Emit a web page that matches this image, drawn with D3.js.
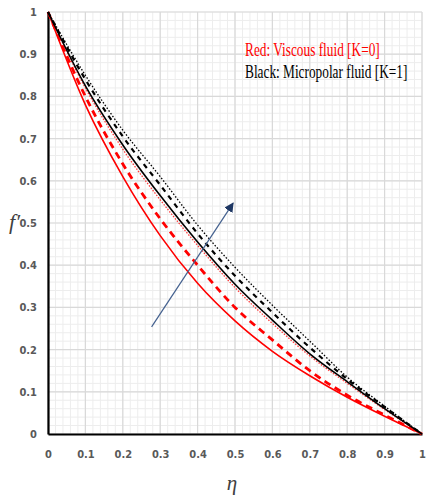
<!DOCTYPE html>
<html lang="en">
<head>
<meta charset="UTF-8">
<title>f' profile</title>
<script src="https://d3js.org/d3.v7.min.js"></script>
<style>
  body { margin: 0; background: #fff; }
  .tick-label { font-family: "Liberation Sans Narrow", "DejaVu Sans Condensed", "Liberation Sans", sans-serif; font-weight: bold; font-size: 11px; fill: #595959; }
</style>
</head>
<body>
<div id="chart"></div>
<script>
// values
const eta = [0, 0.1, 0.2, 0.3, 0.4, 0.5, 0.6, 0.7, 0.8, 0.9, 1];
const redSolid  = [1, 0.78, 0.61, 0.47, 0.357, 0.268, 0.196, 0.138, 0.087, 0.042, 0];
const redDashed = [1, 0.8, 0.64, 0.51, 0.4, 0.3, 0.223, 0.15, 0.092, 0.045, 0];
const redDotted = [1, 0.82, 0.675, 0.555, 0.447, 0.347, 0.262, 0.185, 0.12, 0.058, 0];
const blackSolid  = [1, 0.825, 0.685, 0.565, 0.455, 0.355, 0.27, 0.19, 0.124, 0.06, 0];
const blackDashed = [1, 0.84, 0.705, 0.59, 0.475, 0.375, 0.288, 0.205, 0.13, 0.064, 0];
const blackDotted = [1, 0.85, 0.72, 0.61, 0.495, 0.395, 0.305, 0.22, 0.135, 0.066, 0];
const xTicks = [0, 0.1, 0.2, 0.3, 0.4, 0.5, 0.6, 0.7, 0.8, 0.9, 1];
const yTicks = [0, 0.1, 0.2, 0.3, 0.4, 0.5, 0.6, 0.7, 0.8, 0.9, 1];
const arrowFrom = [0.277, 0.254];
const arrowTo = [0.495, 0.547];

const W = 427, H = 502;
const margin = { top: 12, right: 5, bottom: 68, left: 48 };

const svg = d3.select("#chart").append("svg")
  .attr("width", W).attr("height", H);

const x = d3.scaleLinear().domain([0, 1]).range([margin.left, W - margin.right]);
const y = d3.scaleLinear().domain([0, 1]).range([H - margin.bottom, margin.top]);

// grid: minor every 0.02, major every 0.1
const minor = d3.range(0, 1.0001, 0.02);
const g = svg.append("g");
g.selectAll("line.mx").data(minor).enter().append("line")
  .attr("x1", d => x(d)).attr("x2", d => x(d)).attr("y1", y(0)).attr("y2", y(1))
  .attr("stroke", "#ededed").attr("stroke-width", 1);
g.selectAll("line.my").data(minor).enter().append("line")
  .attr("y1", d => y(d)).attr("y2", d => y(d)).attr("x1", x(0)).attr("x2", x(1))
  .attr("stroke", "#ededed").attr("stroke-width", 1);
g.selectAll("line.gx").data(xTicks).enter().append("line")
  .attr("x1", d => x(d)).attr("x2", d => x(d)).attr("y1", y(0)).attr("y2", y(1))
  .attr("stroke", "#d9d9d9").attr("stroke-width", 1.2);
g.selectAll("line.gy").data(yTicks).enter().append("line")
  .attr("y1", d => y(d)).attr("y2", d => y(d)).attr("x1", x(0)).attr("x2", x(1))
  .attr("stroke", "#d9d9d9").attr("stroke-width", 1.2);

// axes
svg.append("g").attr("transform", `translate(0,${y(0)})`)
  .call(d3.axisBottom(x).tickValues(xTicks).tickSize(0).tickPadding(16).tickFormat(d => d3.format("")(d)))
  .call(a => a.select(".domain").attr("stroke", "#000").attr("stroke-width", 2.2))
  .call(a => a.selectAll("text").attr("class", "tick-label").attr("font-family", null).attr("font-size", null));

svg.append("g").attr("transform", `translate(${x(0)},0)`)
  .call(d3.axisLeft(y).tickValues(yTicks).tickSize(0).tickPadding(11).tickFormat(d => d3.format("")(d)))
  .call(a => a.select(".domain").attr("stroke", "#000").attr("stroke-width", 2.2))
  .call(a => a.selectAll("text").attr("class", "tick-label").attr("font-family", null).attr("font-size", null));

// curves
const series = [
  { v: redSolid,    color: "#ff0000", width: 1.6, dash: null },
  { v: redDashed,   color: "#ff0000", width: 2.8, dash: "7,5" },
  { v: redDotted,   color: "#ff3c3c", width: 1.3, dash: "1.5,1.5" },
  { v: blackSolid,  color: "#000000", width: 1.6, dash: null },
  { v: blackDashed, color: "#000000", width: 2.2, dash: "5,5" },
  { v: blackDotted, color: "#000000", width: 1.3, dash: "1.5,1.8" }
];
const line = d3.line().x(d => x(d[0])).y(d => y(d[1])).curve(d3.curveMonotoneX);
series.forEach(s => {
  svg.append("path")
    .datum(eta.map((e, i) => [e, s.v[i]]))
    .attr("d", line)
    .attr("fill", "none")
    .attr("stroke", s.color)
    .attr("stroke-width", s.width)
    .attr("stroke-dasharray", s.dash);
});

// arrow
svg.append("defs").append("marker")
  .attr("id", "head").attr("viewBox", "0 0 10 10").attr("refX", 9).attr("refY", 5)
  .attr("markerWidth", 8).attr("markerHeight", 8).attr("orient", "auto")
  .append("path").attr("d", "M0,0L10,5L0,10z").attr("fill", "#1f3864");
svg.append("line")
  .attr("x1", x(arrowFrom[0])).attr("y1", y(arrowFrom[1]))
  .attr("x2", x(arrowTo[0])).attr("y2", y(arrowTo[1]))
  .attr("stroke", "#44618f").attr("stroke-width", 1.2)
  .attr("marker-end", "url(#head)");

// legend text (narrow serif, squeezed horizontally)
svg.append("text").attr("transform", "translate(245,56) scale(0.72,1)")
  .attr("font-family", "Liberation Serif, serif").attr("font-size", 18.5)
  .attr("fill", "#ff0000")
  .text("Red: Viscous fluid [K=0]");
svg.append("text").attr("transform", "translate(245,78) scale(0.72,1)")
  .attr("font-family", "Liberation Serif, serif").attr("font-size", 18.5)
  .attr("fill", "#000")
  .text("Black: Micropolar fluid [K=1]");

// axis titles
svg.append("text").attr("x", 232).attr("y", 490).attr("text-anchor", "middle")
  .attr("font-family", "Liberation Serif, serif").attr("font-style", "italic").attr("font-size", 21)
  .attr("fill", "#404040").text("η");
svg.append("text").attr("x", 20).attr("y", 229).attr("text-anchor", "end")
  .attr("font-family", "Liberation Serif, serif").attr("font-style", "italic").attr("font-size", 22)
  .attr("fill", "#404040").text("f′");
</script>
</body>
</html>
